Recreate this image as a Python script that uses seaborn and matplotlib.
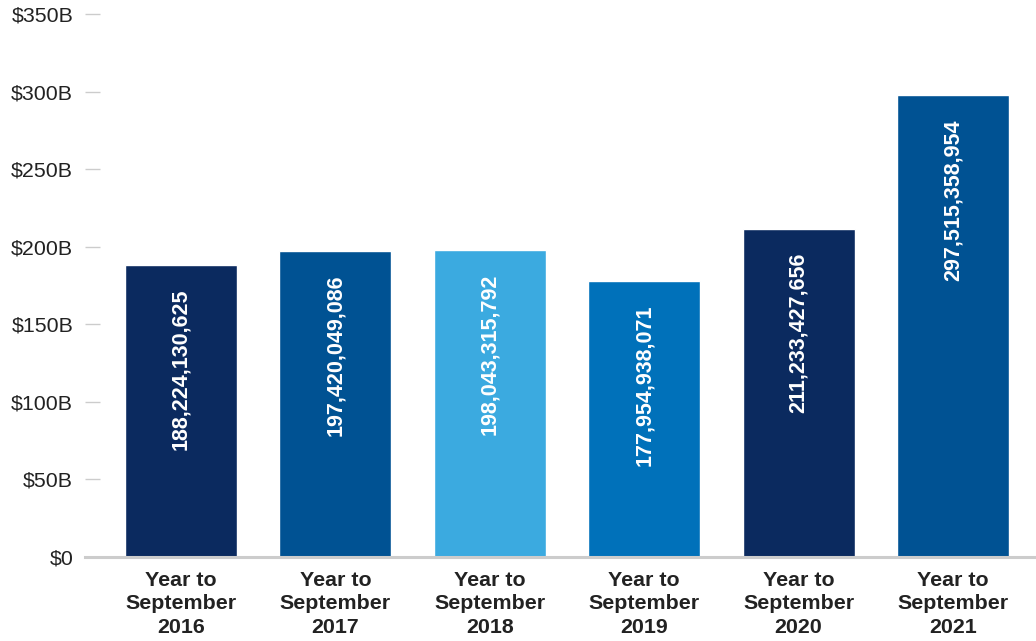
import pandas as pd
import matplotlib.pyplot as plt
import seaborn as sns

# values
periods = ["Year to\nSeptember\n2016", "Year to\nSeptember\n2017", "Year to\nSeptember\n2018",
           "Year to\nSeptember\n2019", "Year to\nSeptember\n2020", "Year to\nSeptember\n2021"]
amounts = [188224130625, 197420049086, 198043315792, 177954938071, 211233427656, 297515358954]
bar_colors = ["#0b2a5f", "#005293", "#3baae0", "#0071ba", "#0b2a5f", "#005293"]
y_ticks = [0, 50e9, 100e9, 150e9, 200e9, 250e9, 300e9, 350e9]
y_tick_labels = ["$0", "$50B", "$100B", "$150B", "$200B", "$250B", "$300B", "$350B"]

df = pd.DataFrame({"period": periods, "amount": amounts})

sns.set_style("white")
plt.rcParams["font.family"] = ["Liberation Sans", "DejaVu Sans"]

fig = plt.figure(figsize=(10.36, 6.41), dpi=100)
ax = fig.add_axes([85 / 1036, (641 - 557) / 641, 1 - 85 / 1036, (557 - 14) / 641])

sns.barplot(data=df, x="period", y="amount", hue="period", palette=bar_colors,
            legend=False, width=0.725, saturation=1, ax=ax)

# value labels, rotated and hanging from the top of each bar
for i, v in enumerate(amounts):
    ax.annotate(f"{v:,}", xy=(i, v), xytext=(0, -17), textcoords="offset points",
                rotation=90, ha="center", va="top", color="white",
                fontsize=15.5, fontweight="bold")

ax.set_ylim(0, 350e9)
ax.set_xlim(-0.622, 5.538)
ax.set_yticks(y_ticks)
ax.set_yticklabels(y_tick_labels, fontsize=15.4, color="#222222")
ax.tick_params(axis="y", direction="in", length=11, width=1, color="#cccccc", pad=8.5, left=True)
ax.tick_params(axis="x", length=0, pad=10)
for lbl in ax.get_xticklabels():
    lbl.set_fontsize(15.4)
    lbl.set_fontweight("bold")
    lbl.set_color("#222222")
    lbl.set_linespacing(1.3)

for s in ["top", "right", "left"]:
    ax.spines[s].set_visible(False)
ax.spines["bottom"].set_color("#cccccc")
ax.spines["bottom"].set_linewidth(2.2)
ax.set_xlabel("")
ax.set_ylabel("")

fig.savefig("out.png", dpi=100)
